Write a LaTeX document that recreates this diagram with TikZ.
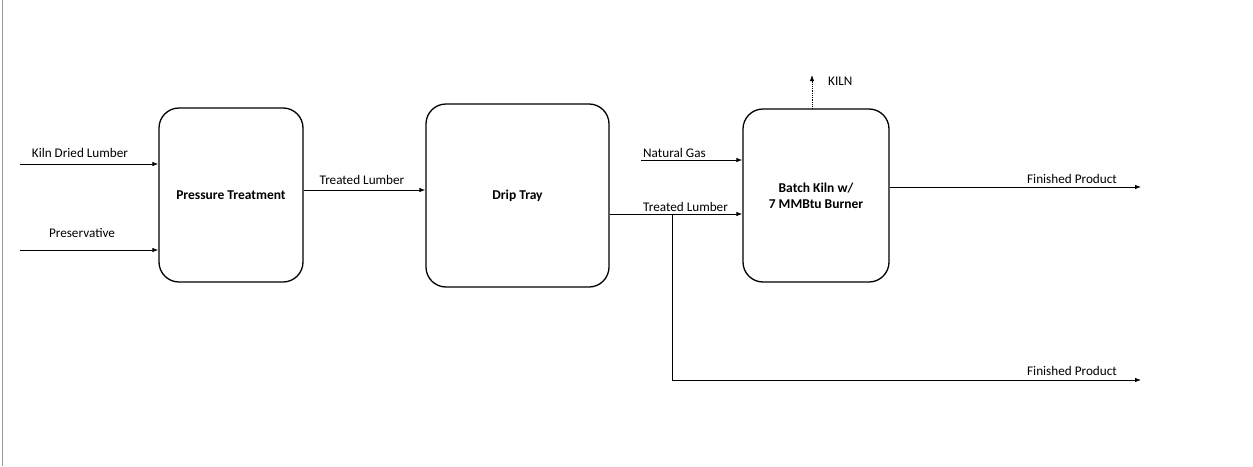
\documentclass[tikz,border=0pt]{standalone}
\usepackage{fontspec}
\setmainfont{Carlito}
\usetikzlibrary{arrows.meta}
\begin{document}
\begin{tikzpicture}[x=1pt,y=-1pt,
  proc/.style={draw,line width=1.3pt,rounded corners=20pt,font=\fontsize{13.5}{16}\selectfont\bfseries,align=center},
  flow/.style={line width=0.8pt,-{Latex[length=6pt,width=4.5pt]}},
  lbl/.style={font=\fontsize{13.2}{15}\selectfont,inner sep=0pt}]
\useasboundingbox (0,0) rectangle (1253,466);
\draw[gray!80,line width=1.2pt] (2.5,0) -- (2.5,466);
% boxes
\node[proc,minimum width=144pt,minimum height=174pt] (pt) at (231,195) {Pressure Treatment};
\node[proc,minimum width=183pt,minimum height=183pt] (dt) at (517.5,195.5) {Drip Tray};
\node[proc,minimum width=146pt,minimum height=173pt] (bk) at (816,195.5) {Batch Kiln w/\\7 MMBtu Burner};
% free ends
\coordinate (kdl) at (20,164);
\coordinate (pres) at (20,250);
\coordinate (ng) at (641,160);
\coordinate (kiln) at (812,75);
\coordinate (fp1) at (1141,187);
\coordinate (br) at (672,214);
\coordinate (brb) at (672,380);
\coordinate (fp2) at (1141,380);
% connectors
\draw[flow] (kdl) -- (kdl -| pt.west);
\draw[flow] (pres) -- (pres -| pt.west);
\draw[flow] (pt.east |- 0,190) -- (dt.west |- 0,190);
\draw[flow] (ng) -- (ng -| bk.west);
\draw[flow] (dt.east |- 0,214) -- (bk.west |- 0,214);
\draw[flow] (br) -- (brb) -- (fp2);
\draw[flow] (bk.east |- fp1) -- (fp1);
\draw[line width=0.8pt,densely dotted,-{Latex[length=6pt,width=4.5pt]}] (bk.north -| kiln) -- (kiln);
% labels
\node[lbl] at (80,153) {Kiln Dried Lumber};
\node[lbl] at (82,233) {Preservative};
\node[lbl] at (362,180) {Treated Lumber};
\node[lbl,anchor=west] at (643,153) {Natural Gas};
\node[lbl,anchor=west] at (643,207) {Treated Lumber};
\node[lbl,anchor=west] at (828,81) {KILN};
\node[lbl] at (1072,179) {Finished Product};
\node[lbl] at (1072,371) {Finished Product};
\end{tikzpicture}
\end{document}
